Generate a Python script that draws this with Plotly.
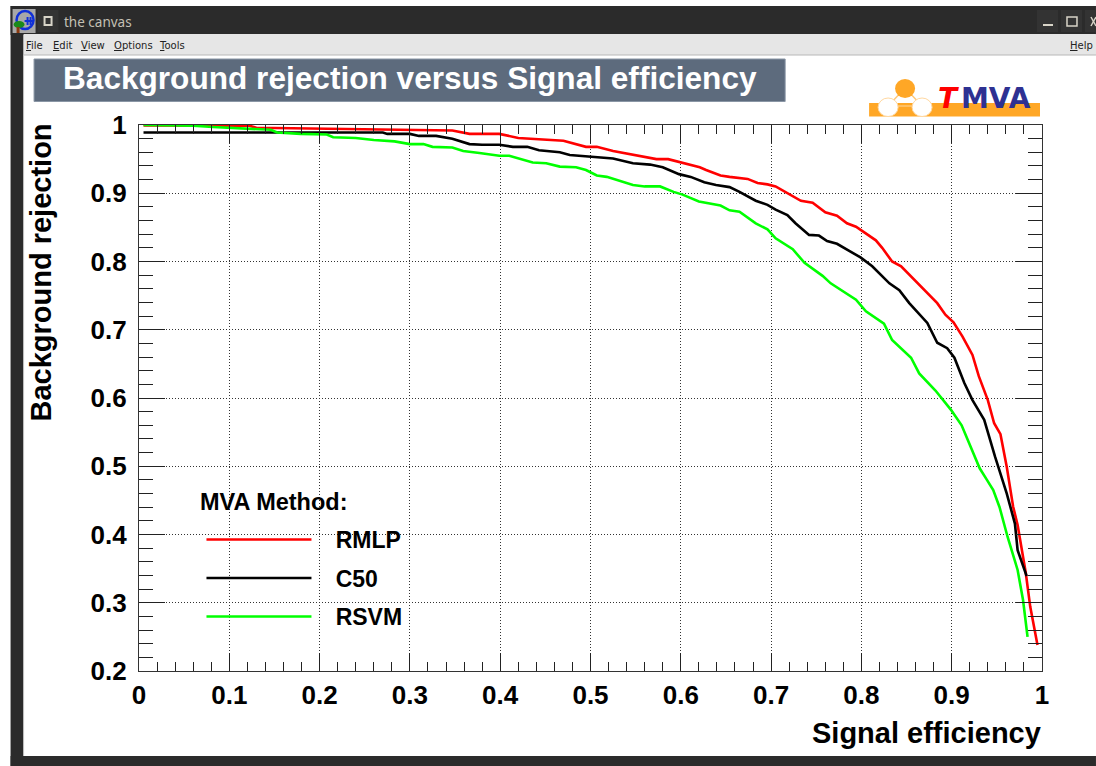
import plotly.graph_objects as go

rmlp_x = [0.005,0.05,0.122,0.13,0.197,0.25,0.288,0.347,0.366,0.399,0.42,0.436,0.47,0.495,0.507,0.525,0.555,0.573,0.586,0.602,0.621,
          0.628,0.644,0.654,0.674,0.685,0.696,0.705,0.724,0.733,0.746,0.76,0.773,0.784,0.794,0.816,0.823,0.834,0.844,0.864,0.875,0.884,0.893,0.902,0.912,0.923,0.93,
          0.94,0.947,0.954,0.961,0.968,0.973,0.982,0.987,0.995]
rmlp_y = [0.9995,0.9995,0.999,0.996,0.995,0.994,0.993,0.992,0.987,0.987,0.981,0.98,0.977,0.968,0.968,0.962,0.955,0.95,0.95,0.944,0.938,
          0.934,0.926,0.924,0.921,0.915,0.913,0.91,0.895,0.889,0.886,0.872,0.867,0.856,0.851,0.831,0.82,0.8,0.793,0.766,0.75,0.739,0.722,0.711,0.69,0.663,0.632,
          0.597,0.563,0.547,0.499,0.441,0.414,0.344,0.294,0.238]
c50_x = [0.005,0.15,0.27,0.275,0.288,0.3,0.31,0.329,0.347,0.366,0.38,0.399,0.414,0.43,0.443,0.466,0.477,0.5,0.525,0.547,0.566,0.58,0.598,
         0.611,0.626,0.639,0.654,0.665,0.683,0.696,0.705,0.718,0.727,0.742,0.753,0.762,0.773,0.786,0.799,0.812,0.831,0.842,0.853,0.873,0.884,0.895,0.903,0.914,0.923,
         0.936,0.948,0.961,0.97,0.973,0.983]
c50_y = [0.989,0.989,0.989,0.987,0.987,0.987,0.984,0.984,0.98,0.972,0.971,0.971,0.968,0.968,0.963,0.96,0.956,0.954,0.951,0.944,0.942,0.938,0.928,
         0.924,0.916,0.912,0.909,0.902,0.889,0.883,0.876,0.868,0.856,0.839,0.838,0.83,0.826,0.816,0.806,0.793,0.768,0.758,0.739,0.71,0.681,0.673,0.659,0.622,0.597,
         0.568,0.514,0.46,0.416,0.377,0.339]
rsvm_x = [0.005,0.048,0.06,0.082,0.102,0.131,0.146,0.153,0.179,0.208,0.215,0.24,0.26,0.283,0.3,0.315,0.325,0.347,0.359,0.377,0.399,0.41,0.436,0.451,0.466,0.484,0.495,0.507,0.518,0.547,0.56,0.577,0.592,0.602,0.62,
          0.644,0.654,0.665,0.683,0.696,0.705,0.724,0.737,0.757,0.766,0.794,0.805,0.825,0.834,0.855,0.864,0.882,0.899,
          0.911,0.924,0.931,0.939,0.946,0.953,0.962,0.973,0.979,0.984]
rsvm_y = [1.0,1.0,0.999,0.997,0.996,0.994,0.993,0.989,0.987,0.986,0.982,0.981,0.978,0.976,0.972,0.972,0.968,0.967,0.962,0.959,0.955,0.955,0.945,0.944,0.939,0.938,0.934,0.926,0.924,0.912,0.91,0.91,0.902,0.898,0.888,
          0.882,0.875,0.873,0.856,0.847,0.834,0.818,0.798,0.779,0.768,0.744,0.727,0.709,0.685,0.659,0.636,0.611,0.583,
          0.56,0.519,0.497,0.48,0.465,0.44,0.396,0.348,0.304,0.25]
series_names = ["RMLP", "C50", "RSVM"]
series_colors = ["#ff0000", "#000000", "#00ff00"]
title_text = "Background rejection versus Signal efficiency"
x_title = "Signal efficiency"
y_title = "Background rejection"
legend_title = "MVA Method:"

W, H = 1096, 766
L, R, T, B = 138.5, 1042, 125, 671
PW, PH = R - L, B - T
def px(v): return (v - L) / PW
def py(v): return (B - v) / PH

shapes = []
def rect(x0, y0, x1, y1, fill, line=None, lw=0, kind="rect"):
    shapes.append(dict(type=kind, xref="paper", yref="paper", x0=px(x0), x1=px(x1), y0=py(y0), y1=py(y1),
                       fillcolor=fill, line=dict(color=line or fill, width=lw), layer="below"))
def seg(x0, y0, x1, y1, color, lw=1):
    shapes.append(dict(type="line", xref="paper", yref="paper", x0=px(x0), x1=px(x1), y0=py(y0), y1=py(y1),
                       line=dict(color=color, width=lw), layer="below"))

# window chrome
DARK = "#2b2b2b"
rect(10, 6, 1096, 35, DARK)
rect(10, 6, 23, 766, DARK)
rect(10, 756, 1096, 766, DARK)
rect(23, 34, 1096, 55, "#e6e6e6")
seg(23, 55, 1096, 55, "#b8b8b8", 1)
seg(23, 55, 23, 756, "#c0c0c0", 1)
# app icon
rect(12, 9, 35, 33, "#a8a8a8")
rect(16, 11, 33, 29, "rgba(0,0,0,0)", "#1030d8", 2.5, "circle")
seg(24, 21, 33, 21, "#1030d8", 2)
seg(27, 17, 27, 25, "#1030d8", 2)
seg(30, 17, 30, 25, "#1030d8", 2)
rect(13, 21, 24, 28, "#1a8a1a", kind="circle")
rect(16, 27, 19, 33, "#8a3a10")
# window buttons
for x0, x1 in [(37, 58), (1037, 1058), (1061, 1082), (1085, 1096)]:
    rect(x0, 10, x1, 32, "#333333")
rect(44, 17, 51, 25, "rgba(0,0,0,0)", "#d8d4c8", 2)
seg(1043, 25, 1053, 25, "#d8d4c8", 2)
rect(1067, 17, 1077, 26, "rgba(0,0,0,0)", "#d8d4c8", 1.5)
seg(1091, 17, 1096, 26, "#d8d4c8", 1.5)
seg(1091, 26, 1096, 17, "#d8d4c8", 1.5)
# title banner
rect(33.5, 59, 785, 101.5, "#5d6b7d", "#8a96a5", 1)
# logo
rect(869, 103, 1040, 116.5, "#ffa726")
seg(888, 106, 905, 88, "#ffc878", 1.5)
seg(922, 106, 905, 88, "#ffc878", 1.5)
seg(888, 106, 922, 106, "#ffc878", 1.5)
rect(878, 98, 898, 116.5, "#ffffff", "#ffd8a0", 1, "circle")
rect(912, 98, 932, 116.5, "#ffffff", "#ffd8a0", 1, "circle")
rect(895, 79, 915, 98, "#ffa726", kind="circle")

SANS = "Liberation Sans"
def note(x, y, text, size, color="#000000", family=SANS, weight=700, xanchor="left", angle=0, style="normal"):
    return dict(xref="paper", yref="paper", x=px(x), y=py(y), text=text, showarrow=False, xanchor=xanchor, yanchor="middle",
                textangle=angle, font=dict(family=family, size=size, color=color, weight=weight, style=style))

annotations = [
    note(R + 1, 733, x_title, 29, xanchor="right"),
    note(40, 273, y_title, 29, xanchor="center", angle=-90),
    note(198, 502, legend_title, 23.5),
    note(61, 22, "the canvas", 13.5, "#c4c0b4", "Noto Sans", 400),
    note(936, 98.5, "T", 28, "#ff0000", "DejaVu Sans", 700, style="italic"),
    note(958.5, 98.5, "MVA", 28, "#2e3192", "DejaVu Sans", 700),
]
for x, t in [(23, "<u>F</u>ile"), (50, "<u>E</u>dit"), (78, "<u>V</u>iew"), (111, "<u>O</u>ptions"), (157, "<u>T</u>ools"), (1068, "<u>H</u>elp")]:
    annotations.append(note(x, 45, t, 10, "#222222", "DejaVu Sans", 400))

fig = go.Figure()
for i, (xs, ys) in enumerate([(rmlp_x, rmlp_y), (c50_x, c50_y), (rsvm_x, rsvm_y)]):
    fig.add_trace(go.Scatter(x=xs, y=ys, mode="lines", name="\u00a0\u00a0\u00a0" + series_names[i],
                             legend="legend" if i == 0 else f"legend{i+1}", showlegend=True,
                             line=dict(color=series_colors[i], width=2.6, shape="linear")))

def leg(yc):
    return dict(x=px(201), y=py(yc), xanchor="left", yanchor="middle", bgcolor="rgba(0,0,0,0)", borderwidth=0,
                itemwidth=105, font=dict(family=SANS, size=23, color="#000000", weight=700), itemclick=False, itemdoubleclick=False)

axis_common = dict(showgrid=True, griddash="1px,2px", gridcolor="#333333", gridwidth=1,
                   showline=True, linecolor="#333333", linewidth=1.2, mirror="ticks", ticks="inside",
                   tickcolor="#222222", tickwidth=1.2, zeroline=False,
                   tickfont=dict(family=SANS, size=26, color="#000000", weight=700))
fig.update_layout(
    width=W, height=H, autosize=False, paper_bgcolor="#ffffff", plot_bgcolor="rgba(0,0,0,0)", showlegend=True,
    margin=dict(l=L, r=W - R, t=T, b=H - B, pad=0),
    title=dict(text=title_text, xref="container", yref="container", x=63 / W, xanchor="left", y=1 - 78 / H, yanchor="middle",
               font=dict(family=SANS, size=31.6, color="#ffffff", weight=700)),
    xaxis=dict(range=[0, 1], tick0=0, dtick=0.1, ticklen=18, ticklabelstandoff=1,
               minor=dict(ticks="inside", ticklen=9, dtick=0.02, tick0=0, tickcolor="#222222", tickwidth=1, showgrid=False),
               **axis_common),
    yaxis=dict(range=[0.2, 1], tick0=0.2, dtick=0.1, ticklen=26, ticklabelstandoff=6,
               minor=dict(ticks="inside", ticklen=14, dtick=0.02, tick0=0.2, tickcolor="#222222", tickwidth=1, showgrid=False),
               **axis_common),
    legend=leg(539.5), legend2=leg(578), legend3=leg(616.5),
    shapes=shapes, annotations=annotations,
)
fig.write_html("out.html", config=dict(displayModeBar=False),
               post_script="document.body.style.margin='0';document.body.style.overflow='hidden';")
